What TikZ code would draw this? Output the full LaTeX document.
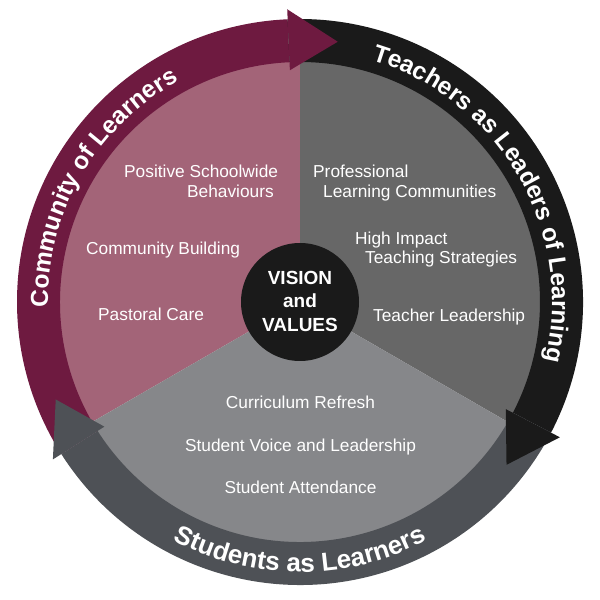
\documentclass[tikz,border=0pt]{standalone}
\usepackage{fontspec}
\setmainfont{Liberation Sans}
\usetikzlibrary{decorations.text}
\definecolor{pinksec}{HTML}{A36478}
\definecolor{maroonring}{HTML}{6E1A40}
\definecolor{darksec}{HTML}{676767}
\definecolor{blackring}{HTML}{1A1A1A}
\definecolor{lightsec}{HTML}{86878A}
\definecolor{slatering}{HTML}{4E5156}
\definecolor{visionc}{HTML}{1A1A1A}
\tikzset{
  lbl/.style={text=white, font=\fontsize{17.3}{20}\selectfont, inner sep=0pt},
  vis/.style={text=white, font=\bfseries\fontsize{19}{22}\selectfont, inner sep=0pt, anchor=base},
  ringtext/.style 2 args={decorate, decoration={text along path, text color=white, text align=center, text={|\bfseries\fontsize{#1}{#1}\selectfont|#2}}}
}
\begin{document}
\begin{tikzpicture}[x=1pt,y=1pt]
\useasboundingbox (0,0) rectangle (600,600);
\fill[white] (0,0) rectangle (600,600);
\coordinate (C) at (300,298);
% sectors
\fill[pinksec, shift={(C)}] (0,0) -- (90:241) arc[start angle=90, end angle=210, radius=241pt] -- cycle;
\fill[darksec, shift={(C)}] (0,0) -- (-30:241) arc[start angle=-30, end angle=90, radius=241pt] -- cycle;
\fill[lightsec, shift={(C)}] (0,0) -- (210:241) arc[start angle=210, end angle=330, radius=241pt] -- cycle;
% vision circle
\fill[visionc] (C) circle[radius=59pt];
% ring bodies
\fill[maroonring, shift={(C)}] (212.5:240) arc[start angle=212.5, end angle=92.5, radius=240pt] -- (92.5:283) arc[start angle=92.5, end angle=212.5, radius=283pt] -- cycle;
\fill[blackring, shift={(C)}] (92.5:240) arc[start angle=92.5, end angle=-27.5, radius=240pt] -- (-27.5:283) arc[start angle=-27.5, end angle=92.5, radius=283pt] -- cycle;
\fill[slatering, shift={(C)}] (-27.5:240) arc[start angle=-27.5, end angle=-147.5, radius=240pt] -- (-147.5:283) arc[start angle=-147.5, end angle=-27.5, radius=283pt] -- cycle;
% heads
\fill[maroonring, shift={(C)}] (92.5:232) -- (92.5:293) -- (81.75:263) -- cycle;
\fill[blackring, shift={(C)}] (-27.5:232) -- (-27.5:293) -- (-38.25:263) -- cycle;
\fill[slatering, shift={(C)}] (212.5:232) -- (212.5:293) -- (201.75:263) -- cycle;
% ring texts
\path[ringtext={24.5}{Community of Learners}, shift={(C)}] (212:252) arc[start angle=212, end angle=88, radius=252pt];
\path[ringtext={24.5}{Teachers as Leaders of Learning}, shift={(C)}] (92:252) arc[start angle=92, end angle=-32, radius=252pt];
\path[ringtext={26}{Students as Learners}, shift={(C)}] (210:270) arc[start angle=210, end angle=330, radius=270pt];
% vision text
\node[vis] (v1) at (300,315) {VISION};
\node[vis] (v2) at (300,292) {and};
\node[vis] (v3) at (300,268) {VALUES};
% pink sector texts
\node[lbl, anchor=base west] (p1) at (124,422) {Positive Schoolwide};
\node[lbl, anchor=base west] (p2) at (187,402) {Behaviours};
\node[lbl, anchor=base west] (p3) at (86,345) {Community Building};
\node[lbl, anchor=base west] (p4) at (98,279) {Pastoral Care};
% dark sector texts
\node[lbl, anchor=base west] (d1) at (313,422) {Professional};
\node[lbl, anchor=base west] (d2) at (323,402) {Learning Communities};
\node[lbl, anchor=base west] (d3) at (355,355) {High Impact};
\node[lbl, anchor=base west] (d4) at (365,336) {Teaching Strategies};
\node[lbl, anchor=base west] (d5) at (373,278) {Teacher Leadership};
% light sector texts
\node[lbl, anchor=base] (l1) at (300.5,191) {Curriculum Refresh};
\node[lbl, anchor=base] (l2) at (300.5,148) {Student Voice and Leadership};
\node[lbl, anchor=base] (l3) at (300.5,106) {Student Attendance};
\end{tikzpicture}
\end{document}
